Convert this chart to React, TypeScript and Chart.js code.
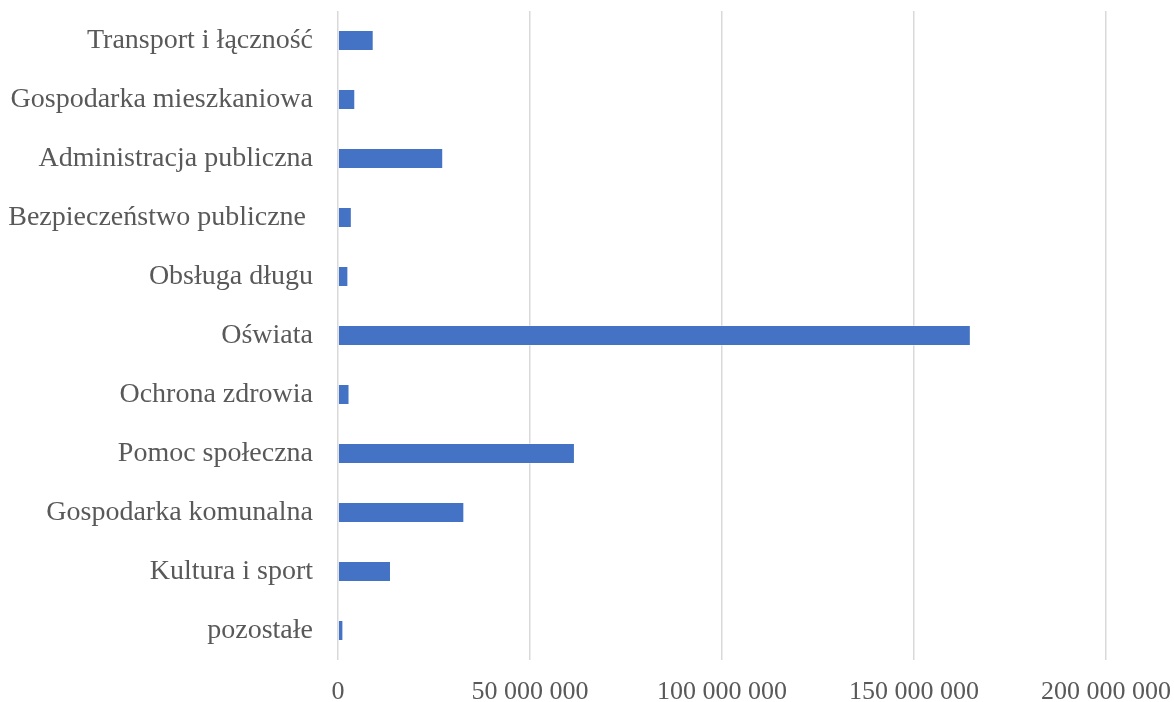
import React, { useEffect, useRef } from "react";
import { Chart, registerables } from "chart.js";

Chart.register(...registerables);

const categories: string[] = [
  "Transport i łączność",
  "Gospodarka mieszkaniowa",
  "Administracja publiczna",
  "Bezpieczeństwo publiczne ",
  "Obsługa długu",
  "Oświata",
  "Ochrona zdrowia",
  "Pomoc społeczna",
  "Gospodarka komunalna",
  "Kultura i sport",
  "pozostałe",
];

const values: number[] = [
  9300000, 4500000, 27400000, 3600000, 2700000, 164800000, 3000000, 61700000,
  32900000, 13800000, 1400000,
];

const xMin = 0;
const xMax = 200000000;
const xStep = 50000000;

function formatTick(v: number): string {
  const s = Math.round(v).toString();
  return s.replace(/\B(?=(\d{3})+(?!\d))/g, " ");
}

export default function App() {
  const ref = useRef<HTMLCanvasElement | null>(null);

  useEffect(() => {
    if (!ref.current) return;
    const chart = new Chart(ref.current, {
      type: "bar",
      data: {
        labels: categories,
        datasets: [
          {
            data: values,
            backgroundColor: "#4472C4",
            borderColor: "rgba(255,255,255,0.35)",
            borderWidth: 1,
            barPercentage: 0.355,
            categoryPercentage: 1,
          },
        ],
      },
      options: {
        indexAxis: "y",
        animation: false,
        responsive: false,
        maintainAspectRatio: false,
        layout: { padding: { top: 11, right: 68, bottom: 0, left: 0 } },
        plugins: {
          legend: { display: false },
          tooltip: { enabled: false },
        },
        scales: {
          x: {
            min: xMin,
            max: xMax,
            ticks: {
              stepSize: xStep,
              color: "#595959",
              font: { family: "'Liberation Serif', 'Times New Roman', serif", size: 26 },
              padding: 17,
              maxRotation: 0,
              callback: (v: any) => formatTick(Number(v)),
            },
            grid: { color: "#d9d9d9", lineWidth: 1.5, drawTicks: false },
            border: { display: false },
            afterFit: (scale: any) => {
              scale.height = 42;
              scale.paddingLeft = 0;
              scale.paddingRight = 0;
            },
          },
          y: {
            ticks: {
              color: "#595959",
              font: { family: "'Liberation Serif', 'Times New Roman', serif", size: 28 },
              padding: 25,
            },
            grid: { display: false, drawTicks: false },
            border: { display: false },
            afterFit: (scale: any) => {
              scale.width = 338;
              scale.paddingTop = 0;
              scale.paddingBottom = 0;
            },
          },
        },
      },
    });
    return () => chart.destroy();
  }, []);

  return (
    <div style={{ position: "fixed", left: 0, top: 0, width: 1174, height: 702, background: "#fff" }}>
      <canvas ref={ref} width={1174} height={702} style={{ display: "block", width: 1174, height: 702 }} />
    </div>
  );
}
